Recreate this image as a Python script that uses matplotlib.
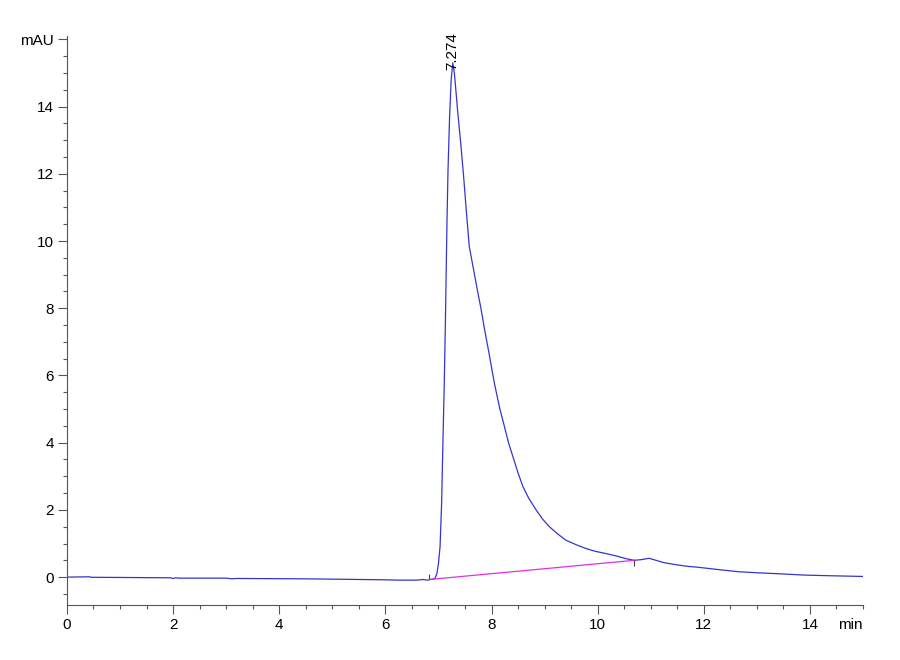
import matplotlib.pyplot as plt
import numpy as np

# chromatogram trace (min, mAU)
time = [0.0, 0.43, 0.45, 1.0, 1.95, 2.0, 2.05, 2.1, 3.0, 3.1, 3.2, 4.4, 5.0,
        5.5, 6.0, 6.27, 6.6, 6.7, 6.8, 6.85, 6.93, 6.97, 7.0, 7.03, 7.06,
        7.08, 7.11, 7.13, 7.16, 7.18, 7.21, 7.24, 7.27, 7.30, 7.36, 7.42,
        7.47, 7.52, 7.58, 7.65, 7.72, 7.80, 7.87, 7.96, 8.05, 8.15, 8.24,
        8.32, 8.40, 8.50, 8.59, 8.70, 8.84, 8.96, 9.09, 9.25, 9.40, 9.60,
        9.78, 9.95, 10.16, 10.35, 10.53, 10.69, 10.82, 10.97, 11.10, 11.25,
        11.47, 11.70, 11.91, 12.3, 12.66, 13.0, 13.42, 13.9, 14.41, 15.0]
signal = [0.0, 0.01, -0.005, -0.01, -0.02, -0.04, -0.02, -0.03, -0.03, -0.05,
          -0.04, -0.05, -0.06, -0.07, -0.08, -0.09, -0.09, -0.07, -0.09, -0.07,
          -0.05, 0.1, 0.4, 0.9, 2.2, 3.7, 5.8, 7.5, 10.5, 12.1, 13.7, 14.8,
          15.3, 15.0, 13.9, 12.9, 12.0, 11.0, 9.84, 9.25, 8.65, 8.0, 7.36,
          6.6, 5.8, 5.05, 4.5, 4.0, 3.6, 3.1, 2.7, 2.35, 2.0, 1.73, 1.5, 1.28,
          1.1, 0.96, 0.85, 0.77, 0.70, 0.63, 0.55, 0.50, 0.52, 0.56, 0.50,
          0.43, 0.37, 0.32, 0.29, 0.22, 0.16, 0.13, 0.10, 0.06, 0.04, 0.02]

# integration baseline of the peak
base_t = [6.83, 10.69]
base_y = [-0.07, 0.50]

peak_rt = 7.274
peak_label = "7.274"

x_ticks = [0, 2, 4, 6, 8, 10, 12, 14]
y_ticks = [0, 2, 4, 6, 8, 10, 12, 14, 16]
y_labels = ["0", "2", "4", "6", "8", "10", "12", "14", "mAU"]

plt.rcParams['font.family'] = ['Liberation Sans Narrow', 'Liberation Sans', 'DejaVu Sans']

fig = plt.figure(figsize=(9, 6.6), dpi=100)
ax = fig.add_axes([0.0744, 0.0833, 0.8845, 0.8622])

ax.plot(time, signal, color='#3535cc', lw=0.9)
ax.plot(base_t, base_y, color='#e030e0', lw=0.9)

# peak start / end markers
ax.vlines(base_t[0], base_y[0], base_y[0] + 0.15, color='#444444', lw=0.8)
ax.vlines(base_t[1], base_y[1] - 0.16, base_y[1], color='#444444', lw=0.8)

ax.text(peak_rt - 0.01, 15.1, peak_label, rotation=90, ha='center',
        va='bottom', fontsize=11, color='black')

ax.set_xlim(0, 15)
ax.set_ylim(-0.83, 16.1)

ax.set_xticks(x_ticks)
ax.set_xticks(np.arange(0, 15.01, 0.5), minor=True)
ax.set_yticks(y_ticks)
ax.set_yticklabels(y_labels)
ax.set_yticks(np.arange(-0.5, 16.01, 0.5), minor=True)

ax.tick_params(which='major', direction='out', length=6.5, width=0.8,
               color='#555555', labelsize=11, pad=3)
ax.tick_params(which='minor', direction='out', length=3.2, width=0.8,
               color='#555555')

ax.annotate('min', xy=(15, 0), xycoords=('data', 'axes fraction'),
            xytext=(0, -9.5), textcoords='offset points',
            ha='right', va='top', fontsize=11)

for s in ['top', 'right']:
    ax.spines[s].set_visible(False)
for s in ['left', 'bottom']:
    ax.spines[s].set_color('#555555')
    ax.spines[s].set_linewidth(0.8)

fig.savefig("out.png", dpi=100)
